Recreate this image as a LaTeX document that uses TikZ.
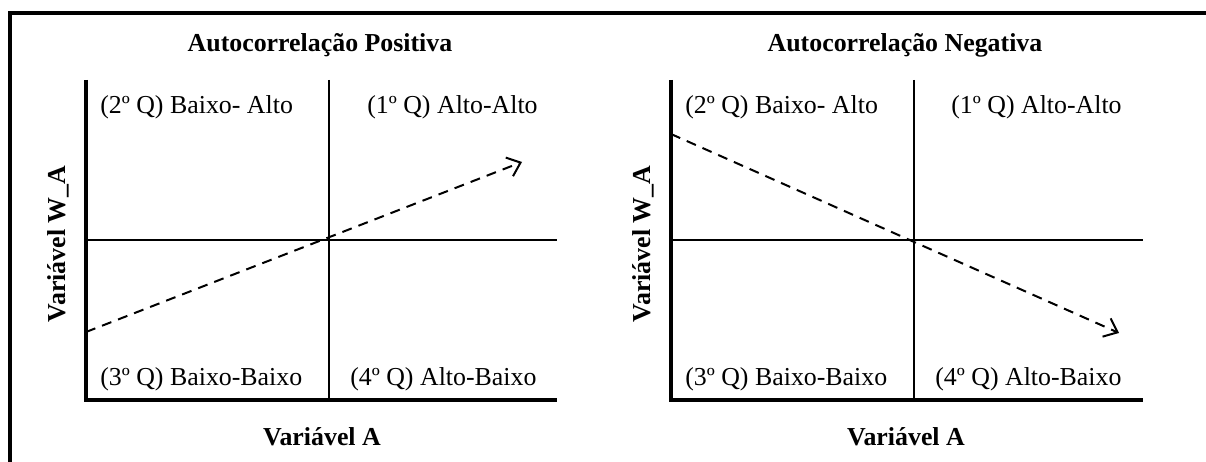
\documentclass[tikz,border=0pt]{standalone}
\usepackage{fontspec}
\setmainfont{Liberation Serif}
\usetikzlibrary{arrows.meta,positioning}

\begin{document}
\begin{tikzpicture}[x=0.25mm, y=-0.25mm,
  font=\fontsize{18.4}{22}\selectfont,
  q/.style={anchor=west, inner sep=0pt},
  ttl/.style={font=\fontsize{18.4}{22}\selectfont\bfseries, inner sep=0pt},
  frame/.style={line width=1mm, line cap=rect},
  axis/.style={line width=1mm},
  mid/.style={line width=0.5mm},
  trend/.style={line width=0.5mm, dash pattern=on 2.5mm off 1.8mm,
                -{Straight Barb[length=3mm, width=5mm, line width=0.5mm]}}]
\useasboundingbox (0,0) rectangle (1206,462);

% outer frame
\draw[frame] (10,462) -- (10,13) -- (1206,13);

% left panel: positive
\node[ttl] (tpos) at (320,45) {Autocorrelação Positiva};
\draw[axis] (86,80) -- (86,400) -- (557,400);
\draw[mid] (329,80) -- (329,400);
\draw[mid] (86,240) -- (557,240);
\node[q] (q2p) at (100,107) {(2º Q) Baixo- Alto};
\node[q] (q1p) at (367,107) {(1º Q) Alto-Alto};
\node[q] (q3p) at (100,379) {(3º Q) Baixo-Baixo};
\node[q] (q4p) at (350,379) {(4º Q) Alto-Baixo};
\node[ttl] (xpos) at (322,437) {Variável A};
\node[ttl, rotate=90] (ypos) at (58,244) {Variável W\_A};
\coordinate (spos) at (86,332);
\coordinate (epos) at (522,162);
\draw[trend] (spos) -- (epos);

% right panel: negative
\node[ttl] (tneg) at (905,45) {Autocorrelação Negativa};
\draw[axis] (671,80) -- (671,400) -- (1143,400);
\draw[mid] (914,80) -- (914,400);
\draw[mid] (671,240) -- (1143,240);
\node[q] (q2n) at (685,107) {(2º Q) Baixo- Alto};
\node[q] (q1n) at (951,107) {(1º Q) Alto-Alto};
\node[q] (q3n) at (685,379) {(3º Q) Baixo-Baixo};
\node[q] (q4n) at (935,379) {(4º Q) Alto-Baixo};
\node[ttl] (xneg) at (906,437) {Variável A};
\node[ttl, rotate=90] (yneg) at (643,244) {Variável W\_A};
\coordinate (sneg) at (671,134);
\coordinate (eneg) at (1119,333);
\draw[trend] (sneg) -- (eneg);
\end{tikzpicture}
\end{document}
